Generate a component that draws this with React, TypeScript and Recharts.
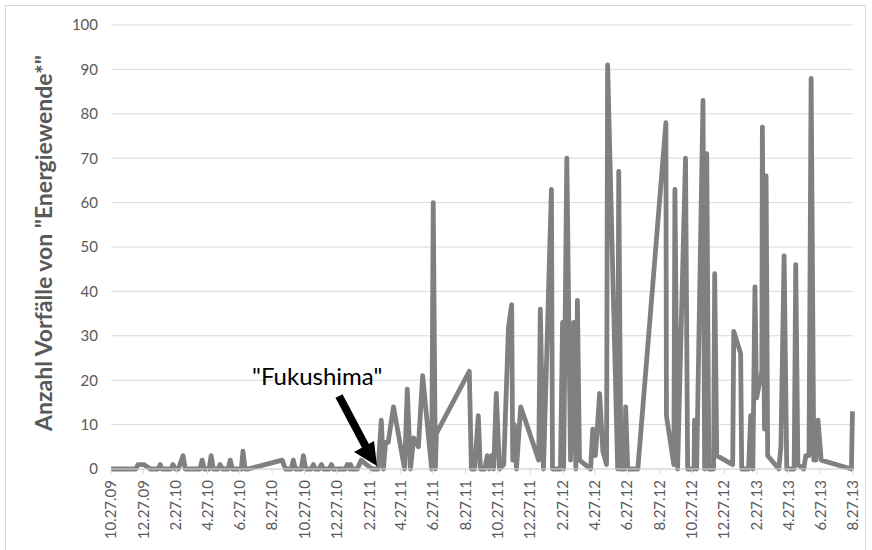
import { LineChart, Line, XAxis, YAxis, CartesianGrid } from 'recharts'

// days since 27 Oct 2009 (order as plotted)
const days = [
  0, 47, 51, 62, 74, 89, 93, 96, 113, 117, 121, 127, 130, 136, 140, 168, 172, 176, 185, 189,
  193, 202, 206, 210, 221, 225, 229, 246, 249, 253, 259, 323, 329, 340, 344, 348, 359, 363, 367, 378,
  382, 385, 393, 397, 401, 412, 416, 419, 442, 446, 450, 452, 455, 465, 472, 482, 493, 504, 510, 514,
  518, 523, 533, 554, 559, 565, 571, 580, 588, 605, 608, 612, 614, 676, 680, 686, 693, 697, 705, 710,
  714, 718, 722, 727, 733, 741, 750, 756, 758, 761, 765, 773, 807, 810, 816, 831, 833, 848, 852, 854,
  860, 867, 873, 877, 880, 884, 905, 909, 914, 922, 928, 935, 937, 956, 958, 962, 969, 971, 975, 994,
  1047, 1048, 1062, 1064, 1069, 1084, 1088, 1100, 1101, 1105, 1117, 1120, 1124, 1128, 1137, 1139, 1143, 1173, 1175, 1188,
  1190, 1203, 1207, 1211, 1215, 1218, 1228, 1229, 1233, 1236, 1239, 1260, 1264, 1270, 1275, 1289, 1292, 1296, 1307, 1311,
  1317, 1321, 1326, 1330, 1334, 1340, 1397, 1399,
]

// Anzahl Vorfälle von "Energiewende*"
const counts = [
  0, 0, 1, 1, 0, 0, 1, 0, 0, 1, 0, 0, 1, 3, 0, 0, 2, 0, 0, 3,
  0, 0, 1, 0, 0, 2, 0, 0, 4, 0, 0, 2, 0, 0, 2, 0, 0, 3, 0, 0,
  1, 0, 0, 1, 0, 0, 1, 0, 0, 1, 0, 1, 0, 0, 2, 1, 0, 0, 11, 0,
  6, 6, 14, 0, 18, 0, 7, 5, 21, 0, 60, 0, 8, 22, 0, 0, 12, 0, 0, 3,
  0, 3, 0, 17, 0, 1, 32, 37, 2, 10, 0, 14, 2, 36, 0, 63, 0, 0, 33, 0,
  70, 2, 33, 0, 38, 2, 0, 9, 3, 17, 4, 1, 91, 0, 67, 0, 0, 14, 0, 0,
  78, 12, 1, 63, 0, 70, 0, 0, 11, 0, 83, 0, 71, 0, 0, 44, 3, 1, 31, 26,
  0, 0, 12, 0, 41, 16, 22, 77, 9, 66, 3, 0, 5, 48, 0, 0, 46, 1, 0, 3,
  3, 88, 2, 2, 11, 2, 0, 13,
]

const yTicks = [0, 10, 20, 30, 40, 50, 60, 70, 80, 90, 100]

// x-axis labels every two months, 10.27.09 ... 8.27.13
const start = Date.UTC(2009, 9, 27)
const tickDates = Array.from({ length: 24 }, (_, k) => new Date(Date.UTC(2009, 9 + 2 * k, 27)))
const xTicks = tickDates.map((d) => Math.round((d.getTime() - start) / 86400000))
const xLabels = tickDates.map(
  (d) => `${d.getUTCMonth() + 1}.27.${String(d.getUTCFullYear()).slice(2)}`
)

const data = days.map((day, i) => ({ day, count: counts[i] }))

const font = 'Lato, "Open Sans", sans-serif'

const DateTick = ({ x, y, payload }: any) => {
  const idx = xTicks.indexOf(payload.value)
  return (
    <text
      x={x}
      y={y}
      transform={`rotate(-90, ${x}, ${y})`}
      textAnchor="end"
      dy="0.35em"
      fill="#595959"
      fontSize={15}
      fontFamily={font}
    >
      {idx >= 0 ? xLabels[idx] : ''}
    </text>
  )
}

export default function App() {
  return (
    <div style={{ position: 'absolute', left: 0, top: 0, width: 872, height: 550, background: '#fff' }}>
      <div
        style={{
          position: 'absolute',
          left: 5,
          top: 5,
          width: 861,
          height: 550,
          border: '1px solid #d9d9d9',
          boxSizing: 'border-box',
        }}
      />
      <LineChart
        width={872}
        height={550}
        data={data}
        margin={{ top: 25, right: 19, bottom: 11, left: 0 }}
        style={{ position: 'absolute', left: 0, top: 0 }}
      >
        <CartesianGrid vertical={false} stroke="#d9d9d9" strokeWidth={1} />
        <XAxis
          dataKey="day"
          type="number"
          domain={[0, 1400]}
          ticks={xTicks}
          interval={0}
          height={70}
          stroke="#d9d9d9"
          tickSize={5}
          tickMargin={6}
          tick={<DateTick />}
        />
        <YAxis
          type="number"
          domain={[0, 100]}
          ticks={yTicks}
          width={111}
          axisLine={false}
          tickLine={false}
          tickSize={0}
          tickMargin={13}
          tick={{ fill: '#595959', fontSize: 15, fontFamily: font }}
          label={{
            value: 'Anzahl Vorfälle von "Energiewende*"',
            angle: -90,
            position: 'insideLeft',
            dx: 39,
            dy: -4,
            fill: '#595959',
            fontSize: 23,
            fontWeight: 700,
            fontFamily: font,
            style: { textAnchor: 'middle' },
          }}
        />
        <Line
          type="linear"
          dataKey="count"
          stroke="#808080"
          strokeWidth={4.8}
          strokeLinejoin="round"
          dot={false}
          activeDot={false}
          isAnimationActive={false}
        />
      </LineChart>
      <svg width={872} height={550} style={{ position: 'absolute', left: 0, top: 0, pointerEvents: 'none' }}>
        <text x={252} y={385} fontSize={24} fontFamily={font} fill="#000">
          "Fukushima"
        </text>
        <line x1={339} y1={396} x2={366} y2={447} stroke="#000" strokeWidth={8} />
        <polygon points="354,452 374,441 377,466" fill="#000" />
      </svg>
    </div>
  )
}
